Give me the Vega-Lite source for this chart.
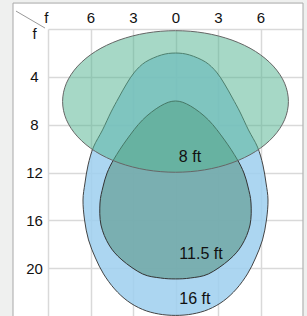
{
  "$schema": "https://vega.github.io/schema/vega-lite/v6.json",
  "autosize": {"type": "none"},
  "width": 255,
  "height": 287,
  "padding": {"left": 48, "top": 29, "right": 4, "bottom": 0},
  "background": "white",
  "config": {"view": {"stroke": null}},
  "datasets": {
    "shapes": [
      {"shape": "16 ft", "i": 1, "x": 0, "y": 2.01},
      {"shape": "16 ft", "i": 2, "x": 0.99, "y": 2.17},
      {"shape": "16 ft", "i": 3, "x": 2.12, "y": 2.76},
      {"shape": "16 ft", "i": 4, "x": 2.89, "y": 3.6},
      {"shape": "16 ft", "i": 5, "x": 3.46, "y": 4.6},
      {"shape": "16 ft", "i": 6, "x": 4.02, "y": 5.77},
      {"shape": "16 ft", "i": 7, "x": 4.55, "y": 6.94},
      {"shape": "16 ft", "i": 8, "x": 5.15, "y": 8.44},
      {"shape": "16 ft", "i": 9, "x": 5.79, "y": 9.87},
      {"shape": "16 ft", "i": 10, "x": 6.17, "y": 11.37},
      {"shape": "16 ft", "i": 11, "x": 6.39, "y": 12.88},
      {"shape": "16 ft", "i": 12, "x": 6.53, "y": 14.3},
      {"shape": "16 ft", "i": 13, "x": 6.42, "y": 15.97},
      {"shape": "16 ft", "i": 14, "x": 6.14, "y": 17.64},
      {"shape": "16 ft", "i": 15, "x": 5.65, "y": 19.15},
      {"shape": "16 ft", "i": 16, "x": 5.08, "y": 20.48},
      {"shape": "16 ft", "i": 17, "x": 4.3, "y": 21.74},
      {"shape": "16 ft", "i": 18, "x": 3.39, "y": 22.74},
      {"shape": "16 ft", "i": 19, "x": 2.33, "y": 23.45},
      {"shape": "16 ft", "i": 20, "x": 1.2, "y": 23.83},
      {"shape": "16 ft", "i": 21, "x": 0, "y": 23.95},
      {"shape": "16 ft", "i": 22, "x": -1.2, "y": 23.83},
      {"shape": "16 ft", "i": 23, "x": -2.33, "y": 23.45},
      {"shape": "16 ft", "i": 24, "x": -3.39, "y": 22.74},
      {"shape": "16 ft", "i": 25, "x": -4.3, "y": 21.74},
      {"shape": "16 ft", "i": 26, "x": -5.08, "y": 20.48},
      {"shape": "16 ft", "i": 27, "x": -5.65, "y": 19.15},
      {"shape": "16 ft", "i": 28, "x": -6.14, "y": 17.64},
      {"shape": "16 ft", "i": 29, "x": -6.42, "y": 15.97},
      {"shape": "16 ft", "i": 30, "x": -6.53, "y": 14.3},
      {"shape": "16 ft", "i": 31, "x": -6.39, "y": 12.88},
      {"shape": "16 ft", "i": 32, "x": -6.17, "y": 11.37},
      {"shape": "16 ft", "i": 33, "x": -5.79, "y": 9.87},
      {"shape": "16 ft", "i": 34, "x": -5.15, "y": 8.44},
      {"shape": "16 ft", "i": 35, "x": -4.55, "y": 6.94},
      {"shape": "16 ft", "i": 36, "x": -4.02, "y": 5.77},
      {"shape": "16 ft", "i": 37, "x": -3.46, "y": 4.6},
      {"shape": "16 ft", "i": 38, "x": -2.89, "y": 3.6},
      {"shape": "16 ft", "i": 39, "x": -2.12, "y": 2.76},
      {"shape": "16 ft", "i": 40, "x": -0.99, "y": 2.17},

      {"shape": "11.5 ft", "i": 1, "x": 0, "y": 6.02},
      {"shape": "11.5 ft", "i": 2, "x": 1.06, "y": 6.44},
      {"shape": "11.5 ft", "i": 3, "x": 2.33, "y": 7.61},
      {"shape": "11.5 ft", "i": 4, "x": 3.46, "y": 9.28},
      {"shape": "11.5 ft", "i": 5, "x": 4.34, "y": 10.87},
      {"shape": "11.5 ft", "i": 6, "x": 4.83, "y": 12.04},
      {"shape": "11.5 ft", "i": 7, "x": 5.12, "y": 13.21},
      {"shape": "11.5 ft", "i": 8, "x": 5.33, "y": 14.55},
      {"shape": "11.5 ft", "i": 9, "x": 5.26, "y": 16.39},
      {"shape": "11.5 ft", "i": 10, "x": 4.69, "y": 18.06},
      {"shape": "11.5 ft", "i": 11, "x": 3.78, "y": 19.31},
      {"shape": "11.5 ft", "i": 12, "x": 2.33, "y": 20.48},
      {"shape": "11.5 ft", "i": 13, "x": 1.06, "y": 20.82},
      {"shape": "11.5 ft", "i": 14, "x": 0, "y": 20.9},
      {"shape": "11.5 ft", "i": 15, "x": -1.06, "y": 20.82},
      {"shape": "11.5 ft", "i": 16, "x": -2.33, "y": 20.48},
      {"shape": "11.5 ft", "i": 17, "x": -3.78, "y": 19.31},
      {"shape": "11.5 ft", "i": 18, "x": -4.69, "y": 18.06},
      {"shape": "11.5 ft", "i": 19, "x": -5.26, "y": 16.39},
      {"shape": "11.5 ft", "i": 20, "x": -5.33, "y": 14.55},
      {"shape": "11.5 ft", "i": 21, "x": -5.12, "y": 13.21},
      {"shape": "11.5 ft", "i": 22, "x": -4.83, "y": 12.04},
      {"shape": "11.5 ft", "i": 23, "x": -4.34, "y": 10.87},
      {"shape": "11.5 ft", "i": 24, "x": -3.46, "y": 9.28},
      {"shape": "11.5 ft", "i": 25, "x": -2.33, "y": 7.61},
      {"shape": "11.5 ft", "i": 26, "x": -1.06, "y": 6.44},

      {"shape": "8 ft", "i": 1, "x": 7.97, "y": 6.06},
      {"shape": "8 ft", "i": 2, "x": 7.7, "y": 7.59},
      {"shape": "8 ft", "i": 3, "x": 6.9, "y": 9.02},
      {"shape": "8 ft", "i": 4, "x": 5.64, "y": 10.25},
      {"shape": "8 ft", "i": 5, "x": 3.99, "y": 11.19},
      {"shape": "8 ft", "i": 6, "x": 2.06, "y": 11.78},
      {"shape": "8 ft", "i": 7, "x": 0, "y": 11.98},
      {"shape": "8 ft", "i": 8, "x": -2.06, "y": 11.78},
      {"shape": "8 ft", "i": 9, "x": -3.99, "y": 11.19},
      {"shape": "8 ft", "i": 10, "x": -5.64, "y": 10.25},
      {"shape": "8 ft", "i": 11, "x": -6.9, "y": 9.02},
      {"shape": "8 ft", "i": 12, "x": -7.7, "y": 7.59},
      {"shape": "8 ft", "i": 13, "x": -7.97, "y": 6.06},
      {"shape": "8 ft", "i": 14, "x": -7.7, "y": 4.53},
      {"shape": "8 ft", "i": 15, "x": -6.9, "y": 3.1},
      {"shape": "8 ft", "i": 16, "x": -5.64, "y": 1.87},
      {"shape": "8 ft", "i": 17, "x": -3.99, "y": 0.93},
      {"shape": "8 ft", "i": 18, "x": -2.06, "y": 0.34},
      {"shape": "8 ft", "i": 19, "x": 0, "y": 0.14},
      {"shape": "8 ft", "i": 20, "x": 2.06, "y": 0.34},
      {"shape": "8 ft", "i": 21, "x": 3.99, "y": 0.93},
      {"shape": "8 ft", "i": 22, "x": 5.64, "y": 1.87},
      {"shape": "8 ft", "i": 23, "x": 6.9, "y": 3.1},
      {"shape": "8 ft", "i": 24, "x": 7.7, "y": 4.53}
    ],
    "labels": [
      {"label": "8 ft", "x": 1.02, "y": 10.74},
      {"label": "11.5 ft", "x": 1.8, "y": 18.81},
      {"label": "16 ft", "x": 1.37, "y": 22.62}
    ],
    "strips": [
      {"x": -13, "x2": -11.47, "y": -3, "y2": 25},
      {"x": -13, "x2": 10, "y": -3, "y2": -2.17},
      {"x": 9, "x2": 10, "y": -3, "y2": 25}
    ],
    "border": [
      {"x": -11.47, "x2": 9, "y": -2.17, "y2": 24.6}
    ],
    "corner": [
      {"x": -11.26, "x2": -9.21, "y": -1.5, "y2": -0.08}
    ]
  },
  "encoding": {
    "x": {
      "field": "x", "type": "quantitative",
      "scale": {"domain": [-9, 9], "nice": false, "zero": false},
      "axis": {
        "orient": "top", "title": null, "values": [-9, -6, -3, 0, 3, 6, 9],
        "domain": false, "ticks": false, "tickSize": 0,
        "labelPadding": 7, "labelBaseline": "alphabetic",
        "labelFont": "Liberation Sans", "labelFontSize": 15, "labelColor": "#111",
        "labelOverlap": false, "labelFlush": false, "labelBound": false,
        "labelExpr": "datum.value == -9 ? 'f' : (datum.value == 9 ? '' : format(abs(datum.value), 'd'))",
        "labelAlign": {"condition": {"test": "datum.value == -9", "value": "right"}, "value": "center"},
        "grid": true, "gridColor": "#d9d9d9", "gridWidth": 1.5
      }
    },
    "y": {
      "field": "y", "type": "quantitative",
      "scale": {"domain": [0, 24], "nice": false, "zero": false, "reverse": true},
      "axis": {
        "orient": "left", "title": null, "values": [0, 4, 8, 12, 16, 20],
        "domain": false, "ticks": false, "tickSize": 0,
        "labelPadding": 14, "labelAlign": "center", "labelBaseline": "middle",
        "labelFont": "Liberation Sans", "labelFontSize": 15, "labelColor": "#111",
        "labelOverlap": false, "labelFlush": false, "labelBound": false,
        "labelOffset": {"condition": {"test": "datum.value == 0", "value": 4}, "value": 0},
        "labelExpr": "datum.value == 0 ? 'f' : datum.label",
        "grid": true, "gridColor": "#d9d9d9", "gridWidth": 1.5
      }
    }
  },
  "layer": [
    {
      "data": {"name": "shapes"},
      "transform": [{"filter": "datum.shape == '16 ft'"}],
      "mark": {"type": "line", "interpolate": "cardinal-closed", "fill": "#9dcfee", "fillOpacity": 0.85, "stroke": "#444", "strokeWidth": 1},
      "encoding": {"order": {"field": "i", "type": "quantitative"}}
    },
    {
      "data": {"name": "shapes"},
      "transform": [{"filter": "datum.shape == '11.5 ft'"}],
      "mark": {"type": "line", "interpolate": "cardinal-closed", "fill": "#71a8a6", "fillOpacity": 0.85, "stroke": "#333", "strokeWidth": 1},
      "encoding": {"order": {"field": "i", "type": "quantitative"}}
    },
    {
      "data": {"name": "shapes"},
      "transform": [{"filter": "datum.shape == '8 ft'"}],
      "mark": {"type": "line", "interpolate": "cardinal-closed", "fill": "#57b593", "fillOpacity": 0.53, "stroke": "#666", "strokeWidth": 1},
      "encoding": {"order": {"field": "i", "type": "quantitative"}}
    },
    {
      "data": {"name": "labels"},
      "mark": {"type": "text", "font": "Liberation Sans", "fontSize": 16, "color": "#111"},
      "encoding": {"text": {"field": "label", "type": "nominal"}}
    },
    {
      "data": {"name": "strips"},
      "mark": {"type": "rect", "fill": "#eff0ef", "clip": false},
      "encoding": {"x2": {"field": "x2"}, "y2": {"field": "y2"}}
    },
    {
      "data": {"name": "border"},
      "mark": {"type": "rect", "fill": null, "fillOpacity": 0, "stroke": "#a8a8a8", "strokeWidth": 1, "clip": false},
      "encoding": {"x2": {"field": "x2"}, "y2": {"field": "y2"}}
    },
    {
      "data": {"name": "corner"},
      "mark": {"type": "rule", "stroke": "#999", "strokeWidth": 1, "clip": false},
      "encoding": {"x2": {"field": "x2"}, "y2": {"field": "y2"}}
    }
  ]
}
